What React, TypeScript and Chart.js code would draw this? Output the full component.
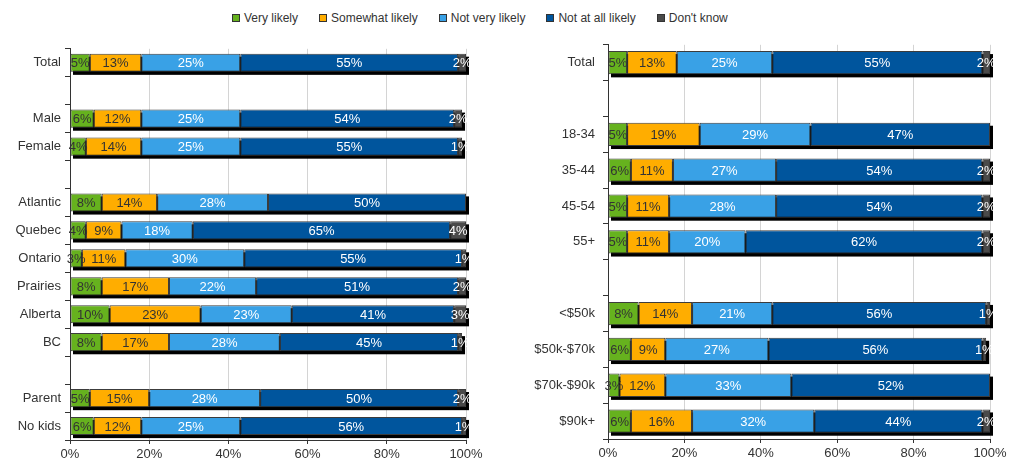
import React, { useEffect, useRef } from "react";
import { Chart, registerables } from "chart.js";

Chart.register(...registerables);

const seriesNames = ["Very likely", "Somewhat likely", "Not very likely", "Not at all likely", "Don't know"];
const seriesColors = ["#66B21E", "#FFAD00", "#39A1E6", "#00559D", "#4A4A4A"];
const labelColors = ["#333333", "#333333", "#FFFFFF", "#FFFFFF", "#FFFFFF"];

const leftCategories = ["Total", "", "Male", "Female", "", "Atlantic", "Quebec", "Ontario", "Prairies", "Alberta", "BC", "", "Parent", "No kids"];
const leftVeryLikely = [5, null, 6, 4, null, 8, 4, 3, 8, 10, 8, null, 5, 6];
const leftSomewhat = [13, null, 12, 14, null, 14, 9, 11, 17, 23, 17, null, 15, 12];
const leftNotVery = [25, null, 25, 25, null, 28, 18, 30, 22, 23, 28, null, 28, 25];
const leftNotAtAll = [55, null, 54, 55, null, 50, 65, 55, 51, 41, 45, null, 50, 56];
const leftDontKnow = [2, null, 2, 1, null, null, 4, 1, 2, 3, 1, null, 2, 1];

const rightCategories = ["Total", "", "18-34", "35-44", "45-54", "55+", "", "<$50k", "$50k-$70k", "$70k-$90k", "$90k+"];
const rightVeryLikely = [5, null, 5, 6, 5, 5, null, 8, 6, 3, 6];
const rightSomewhat = [13, null, 19, 11, 11, 11, null, 14, 9, 12, 16];
const rightNotVery = [25, null, 29, 27, 28, 20, null, 21, 27, 33, 32];
const rightNotAtAll = [55, null, 47, 54, 54, 62, null, 56, 56, 52, 44];
const rightDontKnow = [2, null, null, 2, 2, 2, null, 1, 1, null, 2];

const xTicks = [0, 20, 40, 60, 80, 100];

const FONT = "'Liberation Sans', Arial, sans-serif";

const shadowPlugin = {
  id: "barShadow",
  beforeDatasetsDraw(chart: any) {
    const ctx = chart.ctx;
    const xs = chart.scales.x;
    const n = chart.data.labels.length;
    const metas = chart.data.datasets.map((_: any, i: number) => chart.getDatasetMeta(i));
    ctx.save();
    ctx.fillStyle = "#000000";
    for (let i = 0; i < n; i++) {
      let sum = 0;
      let has = false;
      let h = 0;
      let yc = 0;
      chart.data.datasets.forEach((ds: any, d: number) => {
        const v = ds.data[i];
        if (v != null) {
          sum += v;
          has = true;
          const el = metas[d].data[i];
          if (el) {
            const p = el.getProps(["y", "height"], true);
            h = p.height;
            yc = p.y;
          }
        }
      });
      if (!has) continue;
      const x0 = xs.getPixelForValue(0);
      const x1 = xs.getPixelForValue(sum);
      ctx.fillRect(x0 + 3, yc - h / 2 + 3, x1 - x0, h);
    }
    ctx.restore();
  },
};

const labelPlugin = {
  id: "segLabels",
  afterDatasetsDraw(chart: any) {
    const ctx = chart.ctx;
    ctx.save();
    ctx.font = `13px ${FONT}`;
    ctx.textAlign = "center";
    ctx.textBaseline = "middle";
    chart.data.datasets.forEach((ds: any, d: number) => {
      const meta = chart.getDatasetMeta(d);
      meta.data.forEach((el: any, i: number) => {
        const v = ds.data[i];
        if (v == null) return;
        const p = el.getProps(["x", "base", "y"], true);
        ctx.fillStyle = labelColors[d];
        ctx.fillText(`${v}%`, (p.x + p.base) / 2, p.y + 1);
      });
    });
    ctx.restore();
  },
};

function makeConfig(categories: string[], series: (number | null)[][], yWidth: number, labelPad: number, xHeight: number) {
  return {
    type: "bar" as const,
    data: {
      labels: categories,
      datasets: series.map((data, i) => ({
        label: seriesNames[i],
        data,
        backgroundColor: seriesColors[i],
        borderColor: "#3C3C3C",
        borderWidth: 1,
        borderSkipped: false,
        barPercentage: 0.65,
        categoryPercentage: 1,
      })),
    },
    options: {
      indexAxis: "y" as const,
      responsive: false,
      animation: false as const,
      devicePixelRatio: 1,
      layout: { padding: { top: 0, right: 20, left: 0, bottom: 0 } },
      plugins: { legend: { display: false }, tooltip: { enabled: false } },
      scales: {
        x: {
          stacked: true,
          min: 0,
          max: 100,
          afterBuildTicks(scale: any) {
            scale.ticks = xTicks.map((v) => ({ value: v }));
          },
          afterFit(scale: any) {
            scale.height = xHeight;
          },
          ticks: {
            callback: (v: any) => `${v}%`,
            font: { family: FONT, size: 13 },
            color: "#333333",
            padding: 3,
            maxRotation: 0,
          },
          grid: { color: "#D4D4D4", lineWidth: 1, tickLength: 4, tickColor: "#333333" },
          border: { display: true, color: "#333333", width: 1 },
        },
        y: {
          stacked: true,
          afterFit(scale: any) {
            scale.width = yWidth;
          },
          ticks: {
            font: { family: FONT, size: 13 },
            color: "#333333",
            padding: labelPad,
            autoSkip: false,
          },
          grid: { drawOnChartArea: false, drawTicks: true, tickLength: 5, color: "#333333", offset: true },
          border: { display: true, color: "#333333", width: 1 },
        },
      },
    },
    plugins: [shadowPlugin, labelPlugin],
  };
}

function BarChart(props: { categories: string[]; series: (number | null)[][]; left: number; top: number; width: number; yWidth: number; labelPad: number; xHeight: number }) {
  const ref = useRef<HTMLCanvasElement | null>(null);
  const height = 461 - props.top;
  useEffect(() => {
    if (!ref.current) return;
    const chart = new Chart(ref.current, makeConfig(props.categories, props.series, props.yWidth, props.labelPad, props.xHeight) as any);
    return () => chart.destroy();
  }, []);
  return (
    <canvas
      ref={ref}
      width={props.width}
      height={height}
      style={{ position: "absolute", left: props.left, top: props.top, width: props.width, height }}
    />
  );
}

function Legend() {
  return (
    <div
      style={{
        position: "absolute",
        left: 232,
        top: 11,
        display: "flex",
        alignItems: "center",
        fontFamily: FONT,
        fontSize: 12,
        color: "#333333",
        lineHeight: "14px",
        whiteSpace: "nowrap",
      }}
    >
      {seriesNames.map((name, i) => (
        <div key={name} style={{ display: "flex", alignItems: "center", marginRight: 21 }}>
          <span
            style={{
              display: "inline-block",
              width: 6,
              height: 6,
              background: seriesColors[i],
              border: "1px solid #333333",
              marginRight: 4,
            }}
          />
          <span>{name}</span>
        </div>
      ))}
    </div>
  );
}

export default function App() {
  return (
    <div style={{ position: "absolute", left: 0, top: 0, width: 1022, height: 461, background: "#FFFFFF", overflow: "hidden" }}>
      <Legend />
      <BarChart
        categories={leftCategories}
        series={[leftVeryLikely, leftSomewhat, leftNotVery, leftNotAtAll, leftDontKnow]}
        left={0}
        top={37}
        width={486}
        yWidth={70}
        labelPad={4}
        xHeight={21}
      />
      <BarChart
        categories={rightCategories}
        series={[rightVeryLikely, rightSomewhat, rightNotVery, rightNotAtAll, rightDontKnow]}
        left={520}
        top={29}
        width={490}
        yWidth={88}
        labelPad={8}
        xHeight={22}
      />
    </div>
  );
}
